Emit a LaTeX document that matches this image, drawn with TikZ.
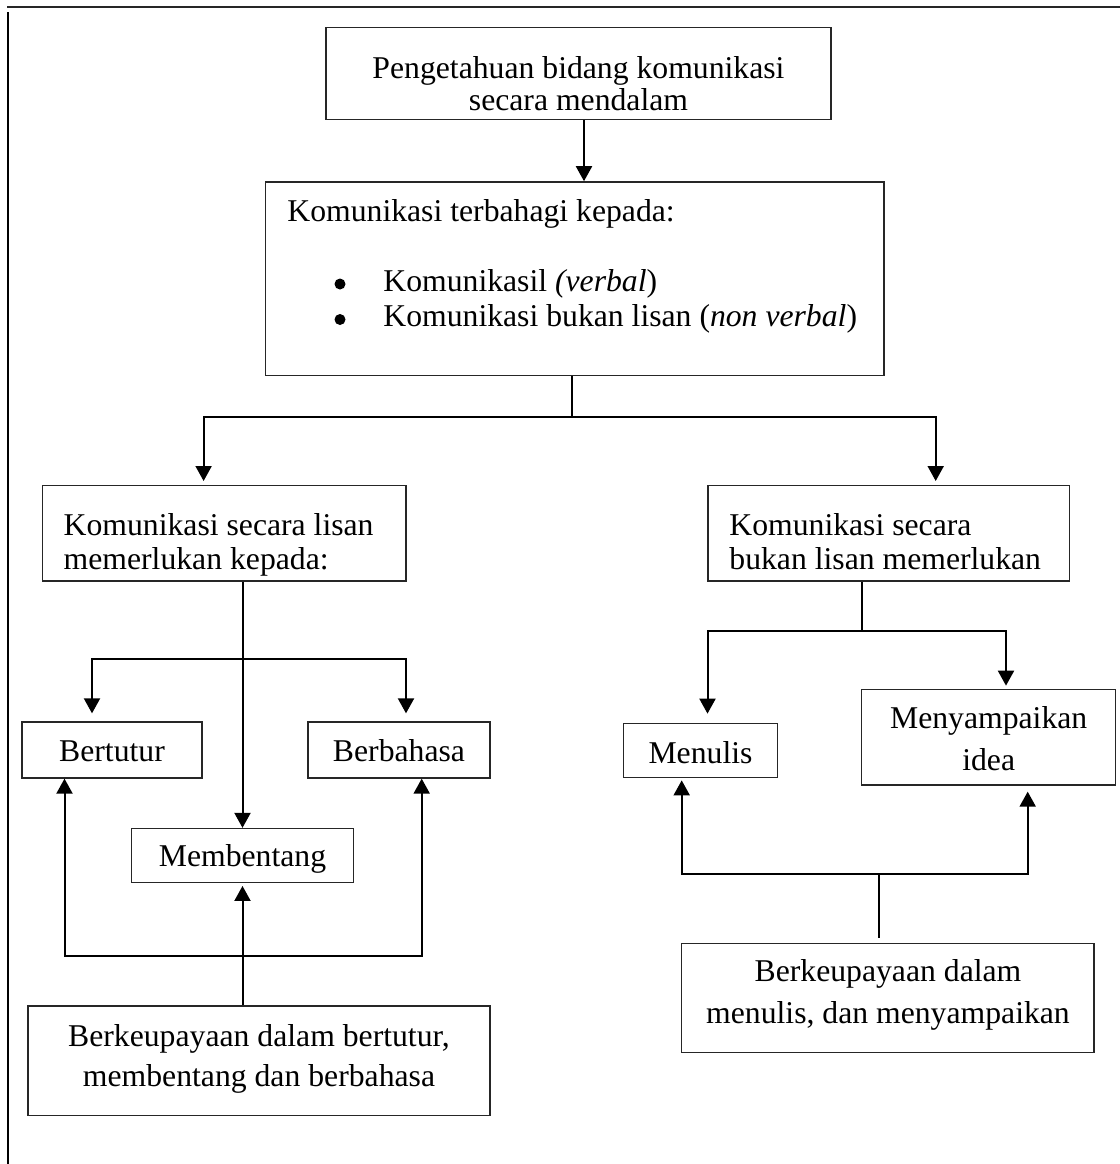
\documentclass[tikz,border=0pt]{standalone}
\usepackage{fontspec}
\setmainfont{Liberation Serif}
\usetikzlibrary{arrows.meta}
\tikzset{
  box/.style={draw=black!85,line width=0.65pt,inner sep=0pt},
  lbl/.style={inner sep=0pt,anchor=base,font=\fontsize{15.85pt}{17pt}\selectfont},
  dot/.style={circle,fill,inner sep=0pt,minimum size=5.5pt},
  link/.style={line width=1pt},
  arr/.style={line width=1pt,-{Triangle[length=7.5pt,width=8pt]}},
}
\begin{document}
\begin{tikzpicture}[x=0.5pt,y=-0.5pt]
\useasboundingbox (0,0) rectangle (1120,1164);
% frame of the page
\draw[line width=1pt,black!85] (7,7) -- (1120,7);
\draw[line width=1pt] (8,12) -- (8,1164);
% boxes
\node[box,minimum width=252.5pt,minimum height=46pt] (know) at (578.5,73.3) {};
\node[box,minimum width=309.25pt,minimum height=96.65pt] (types) at (574.75,278.5) {};
\node[box,minimum width=181.85pt,minimum height=47.65pt] (lisan) at (224.2,533.3) {};
\node[box,minimum width=180.75pt,minimum height=47.65pt] (bukan) at (888.75,533.3) {};
\node[box,minimum width=90pt,minimum height=28pt] (bertutur) at (112,750) {};
\node[box,minimum width=91pt,minimum height=28pt] (berbahasa) at (399,750) {};
\node[box,minimum width=111pt,minimum height=26.9pt] (membentang) at (242.5,855.4) {};
\node[box,minimum width=231pt,minimum height=54.85pt] (skillL) at (259,1060.85) {};
\node[box,minimum width=77.2pt,minimum height=27.2pt] (menulis) at (700.5,750.5) {};
\node[box,minimum width=127pt,minimum height=47.85pt] (idea) at (988.7,737.15) {};
\node[box,minimum width=206.15pt,minimum height=54.7pt] (skillR) at (887.85,998) {};
% texts
\node[lbl] (knowA) at (578.5,78.3) {Pengetahuan bidang komunikasi};
\node[lbl] (knowB) at (578.5,110.7) {secara mendalam};
\node[lbl,anchor=base west] (typesHead) at (287,221.7) {Komunikasi terbahagi kepada:};
\node[dot] (dotA) at (340,284) {};
\node[dot] (dotB) at (340,319.5) {};
\node[lbl,anchor=base west] (typesA) at (383,291.7) {Komunikasil \textit{(verbal})};
\node[lbl,anchor=base west] (typesB) at (383,326.7) {Komunikasi bukan lisan (\textit{non verbal})};
\node[lbl,anchor=base west] (lisanA) at (63.3,535) {Komunikasi secara lisan};
\node[lbl,anchor=base west] (lisanB) at (63.3,569.3) {memerlukan kepada:};
\node[lbl,anchor=base west] (bukanA) at (729,535) {Komunikasi secara};
\node[lbl,anchor=base west] (bukanB) at (729,569.3) {bukan lisan memerlukan};
\node[lbl] (bertuturT) at (112,761) {Bertutur};
\node[lbl] (berbahasaT) at (399,761) {Berbahasa};
\node[lbl] (membentangT) at (242.5,866.5) {Membentang};
\node[lbl] (menulisT) at (700.5,763) {Menulis};
\node[lbl] (ideaA) at (988.7,728.3) {Menyampaikan};
\node[lbl] (ideaB) at (988.7,770) {idea};
\node[lbl] (skillLA) at (259,1046) {Berkeupayaan dalam bertutur,};
\node[lbl] (skillLB) at (259,1086.7) {membentang dan berbahasa};
\node[lbl] (skillRA) at (888,981.7) {Berkeupayaan dalam};
\node[lbl] (skillRB) at (888,1023.3) {menulis, dan menyampaikan};
% junctions
\coordinate (j1) at (571.7,417);
\coordinate (j2) at (242.5,659);
\coordinate (j3) at (242.5,956);
\coordinate (j4) at (862,631);
\coordinate (j5) at (879.3,874.3);
% connectors
\draw[arr] (know.south -| 584,0) -- (types.north -| 584,0);
\draw[link] (types.south -| j1) -- (j1);
\draw[arr,shorten >=2pt] (j1) -| (lisan.north -| 203.6,0);
\draw[arr,shorten >=2pt] (j1) -| (bukan.north -| 935.7,0);
\draw[arr] (membentang.north |- lisan.south) -- (membentang.north);
\draw[arr,shorten >=4pt] (j2) -| (bertutur.north -| 92,0);
\draw[arr,shorten >=4pt] (j2) -| (berbahasa.north -| 406,0);
\draw[arr,shorten >=1.5pt] (membentang.south |- skillL.north) -- (membentang.south);
\draw[arr] (j3) -| (bertutur.south -| 64.5,0);
\draw[arr] (j3) -| (berbahasa.south -| 421.7,0);
\draw[link] (bukan.south -| j4) -- (j4);
\draw[arr,shorten >=4.5pt] (j4) -| (menulis.north -| 707.5,0);
\draw[arr,shorten >=1.5pt] (j4) -| (idea.north -| 1006,0);
\draw[link,shorten <=2.5pt] (skillR.north -| j5) -- (j5);
\draw[arr,shorten >=1pt] (j5) -| (menulis.south -| 681.7,0);
\draw[arr,shorten >=3pt] (j5) -| (idea.south -| 1027.7,0);
\end{tikzpicture}
\end{document}
